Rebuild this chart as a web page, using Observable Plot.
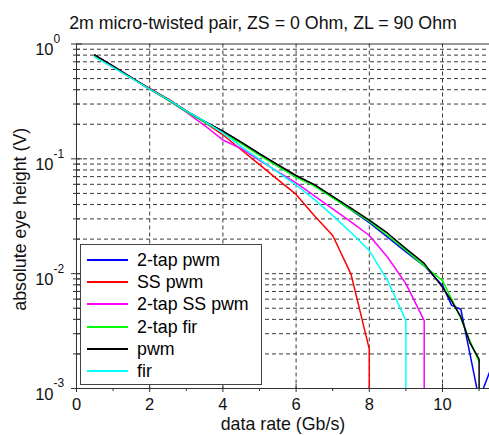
<!DOCTYPE html>
<html>
<head>
<meta charset="utf-8">
<script src="https://cdn.jsdelivr.net/npm/d3@7"></script>
<script src="https://cdn.jsdelivr.net/npm/@observablehq/plot@0.6"></script>
<style>
  html, body { margin: 0; padding: 0; background: #fff; }
  #wrap { position: relative; width: 489px; height: 435px; font-family: "Liberation Sans", Arial, sans-serif; }
  #legend { position: absolute; left: 80px; top: 244px; width: 180px; height: 139px; border: 1px solid #444; background: #fff; }
  .row { position: absolute; left: 0; height: 20px; }
  .sw { position: absolute; left: 6px; top: 9px; width: 41px; height: 2px; }
  .lb { position: absolute; left: 56px; top: 0; font-size: 17.8px; line-height: 20px; color: #000; white-space: nowrap; }
</style>
</head>
<body>
<div id="wrap"></div>
<script>
// ---- data ----
const rates = [0.5,1,1.5,2,2.5,3,3.5,4,4.5,5,5.5,6,6.5,7,7.5,8,8.5,9,9.5,10,10.25,10.5,10.75,11,11.5];
const seriesNames = ["2-tap pwm","SS pwm","2-tap SS pwm","2-tap fir","pwm","fir"];
const seriesColors = ["#0000ff","#ff0000","#ff00ff","#00ff00","#000000","#00ffff"];
const tap2Pwm   = [0.80,0.64,0.51,0.405,0.33,0.26,0.211,0.173,0.139,0.11,0.088,0.071,0.059,0.0462,0.036,0.0278,0.0208,0.0155,0.0117,0.0079,0.0053,0.0049,0.0020,0.0008,0.0021];
const ssPwm     = [0.80,0.64,0.51,0.41,0.333,0.262,0.208,0.162,0.12,0.089,0.066,0.049,0.032,0.0215,0.0099,0.0022];
const tap2SsPwm = [0.79,0.63,0.505,0.405,0.325,0.255,0.195,0.146,0.123,0.097,0.0774,0.0617,0.0476,0.0367,0.0283,0.0215,0.0139,0.0082,0.0039];
const tap2Fir   = [0.79,0.63,0.505,0.405,0.325,0.258,0.208,0.169,0.136,0.107,0.086,0.069,0.0578,0.0458,0.0362,0.0285,0.0215,0.016,0.0117,0.0087,0.006,0.0041,0.0026,0.0017];
const pwm       = [0.80,0.64,0.51,0.407,0.33,0.262,0.212,0.174,0.14,0.111,0.089,0.0716,0.0597,0.047,0.0372,0.0292,0.0225,0.0165,0.0123,0.0076,0.0058,0.0042,0.0025,0.0018];
const fir       = [0.77,0.625,0.505,0.405,0.33,0.262,0.212,0.168,0.1275,0.099,0.0766,0.059,0.0444,0.032,0.0228,0.0159,0.0087,0.0039];
// rate at which the eye closes (curve drops vertically off the axis)
const closedAt  = [null, 8, 9.5, null, 11, 9];
const closedValue = 1e-4; // below the axis floor: eye fully closed

const xMajor = [0,2,4,6,8,10];
const xMinor = [1,3,5,7,9,11];
const yMajor = [1,0.1,0.01,0.001];
const yExpLabels = ["0","-1","-2","-3"];
const yMinor = [-3,-2,-1].flatMap(k => [2,3,4,5,6,7,8,9].map(m => m * Math.pow(10, k)));
const title = "2m micro-twisted pair, ZS = 0 Ohm, ZL = 90 Ohm";
const xLabel = "data rate (Gb/s)";
const yLabel = "absolute eye height (V)";

const allValues = [tap2Pwm, ssPwm, tap2SsPwm, tap2Fir, pwm, fir];
const rows = allValues.map((vals, s) => {
  const r = vals.map((v, i) => ({series: seriesNames[s], rate: rates[i], v}))
               .filter(d => d.v != null);
  if (closedAt[s] != null) r.push({series: seriesNames[s], rate: closedAt[s], v: closedValue});
  return r;
});

const W = 489, H = 435, mL = 76, mT = 43.5, mB = 47;
const xMax = (W - mL) / 36.6;
const gridStyle = {stroke: "#3a3a3a", strokeWidth: 1, strokeDasharray: "4,3"};
const labelSize = 17.8, tickSize = 16.5;

const chart = Plot.plot({
  width: W, height: H,
  marginLeft: mL, marginRight: 0, marginTop: mT, marginBottom: mB,
  style: {fontFamily: "Liberation Sans, Arial, sans-serif", background: "#fff"},
  x: {domain: [0, xMax], axis: null},
  y: {type: "log", domain: [1e-3, 1], axis: null},
  marks: [
    // dashed grid
    Plot.ruleY(yMinor.concat([0.1, 0.01]), {y: d => d, ...gridStyle}),
    Plot.ruleX(xMajor.filter(d => d > 0), {x: d => d, ...gridStyle}),
    // frame lines
    Plot.ruleY([1], {y: d => d, stroke: "#333", strokeWidth: 1}),
    Plot.ruleY([1e-3], {y: d => d, stroke: "#333", strokeWidth: 1}),
    Plot.ruleX([0], {x: d => d, stroke: "#333", strokeWidth: 1}),
    // ticks
    Plot.ruleY(yMajor, {y: d => d, x1: 0, x2: 0, insetLeft: -5, insetRight: -6, stroke: "#333"}),
    Plot.ruleY(yMinor, {y: d => d, x1: 0, x2: 0, insetLeft: -3, insetRight: -4, stroke: "#333"}),
    Plot.ruleX(xMajor, {x: d => d, y1: 1e-3, y2: 1e-3, insetTop: -4, insetBottom: -4, stroke: "#333"}),
    Plot.ruleX(xMinor, {x: d => d, y1: 1e-3, y2: 1e-3, insetTop: 0, insetBottom: -3, stroke: "#333"}),
    // curves
    ...rows.map((r, s) => Plot.line(r, {x: "rate", y: "v", stroke: seriesColors[s], strokeWidth: 1.5, clip: true})),
    // tick labels
    Plot.text(xMajor, {x: d => d, y: 1e-3, text: d => String(d), dy: 16, fontSize: tickSize, fill: "#111"}),
    Plot.text(yMajor, {x: 0, y: d => d, text: () => "10", textAnchor: "end", dx: -23, dy: 6, fontSize: tickSize, fill: "#111"}),
    Plot.text(yMajor, {x: 0, y: d => d, text: (d, i) => yExpLabels[i], textAnchor: "start", dx: -23, dy: -5, fontSize: 12, fill: "#111"}),
    // titles
    Plot.text([title], {frameAnchor: "top", lineAnchor: "middle", textAnchor: "middle", dy: -21, dx: -20, fontSize: labelSize, fill: "#111"}),
    Plot.text([xLabel], {frameAnchor: "bottom", lineAnchor: "middle", textAnchor: "middle", dy: 36, fontSize: labelSize, fill: "#111"}),
    Plot.text([yLabel], {frameAnchor: "left", lineAnchor: "middle", textAnchor: "middle", dx: -56, dy: 3, rotate: -90, fontSize: labelSize, fill: "#111"})
  ]
});

const wrap = document.getElementById("wrap");
wrap.appendChild(chart);

// legend inside the axes, as in the reference
const legend = document.createElement("div");
legend.id = "legend";
seriesNames.forEach((name, i) => {
  const row = document.createElement("div");
  row.className = "row";
  row.style.top = (5 + i * 22.2) + "px";
  row.style.width = "100%";
  const sw = document.createElement("div");
  sw.className = "sw";
  sw.style.background = seriesColors[i];
  const lb = document.createElement("div");
  lb.className = "lb";
  lb.textContent = name;
  row.appendChild(sw); row.appendChild(lb);
  legend.appendChild(row);
});
wrap.appendChild(legend);
</script>
</body>
</html>
